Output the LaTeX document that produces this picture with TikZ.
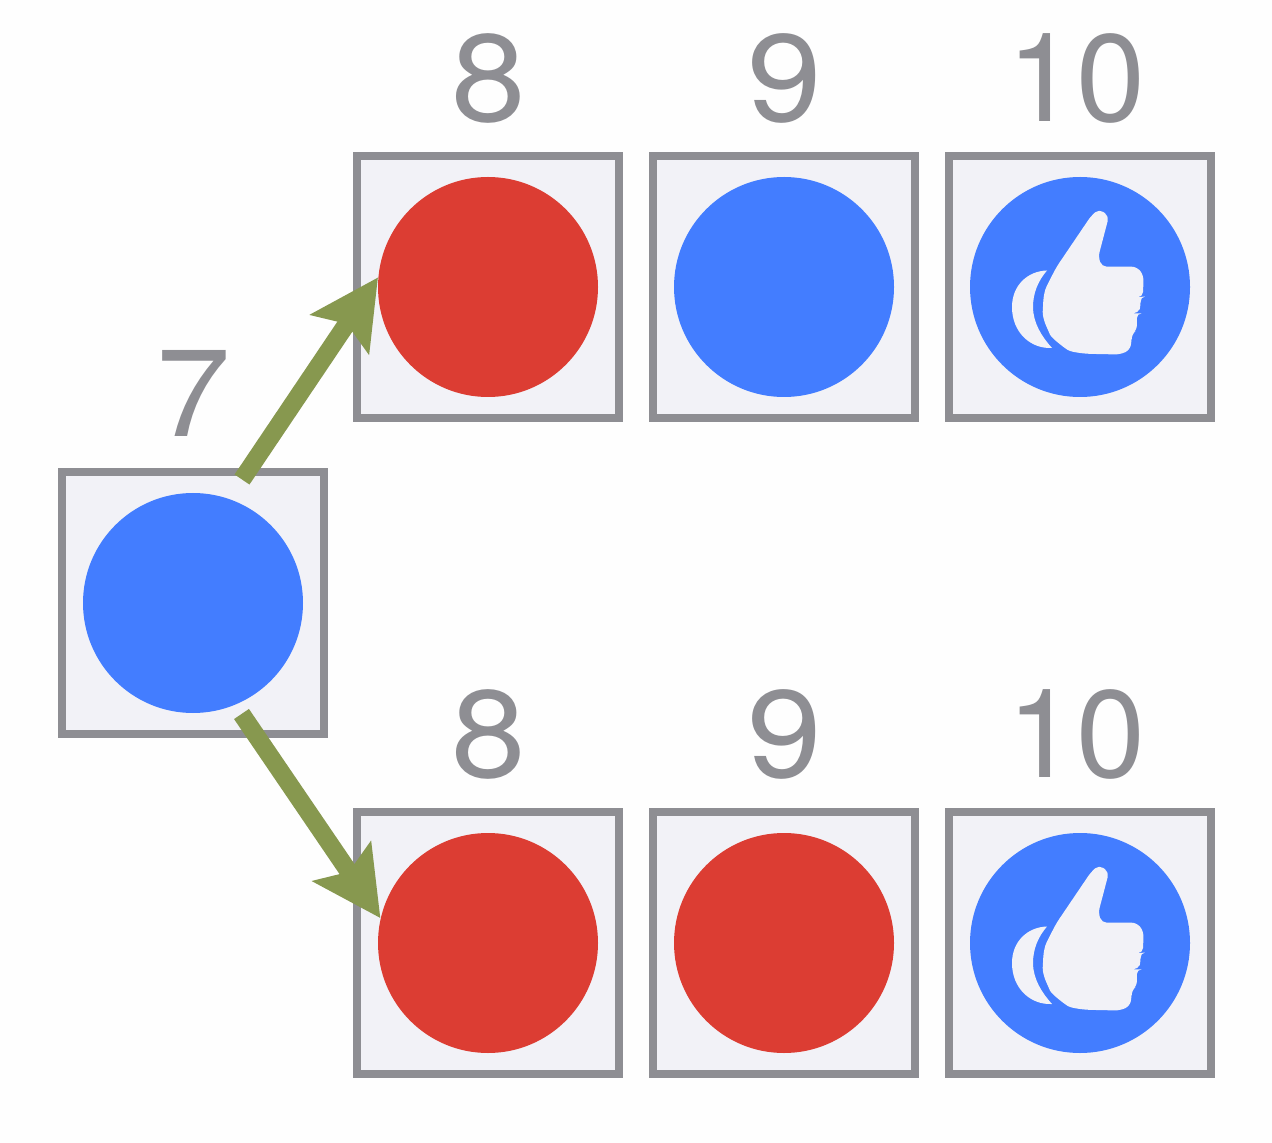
\documentclass[tikz,border=0pt]{standalone}
\usepackage{fontspec}
\setmainfont{TeX Gyre Heros}
\usetikzlibrary{arrows.meta}
\definecolor{boxfill}{HTML}{F2F2F7}
\definecolor{boxline}{HTML}{8E8E93}
\definecolor{dotblue}{HTML}{437DFF}
\definecolor{dotred}{HTML}{DC3D33}
\definecolor{arrowgreen}{HTML}{87984F}
\newcommand{\widedigit}[1]{\scalebox{1.08}[1]{#1}}
\tikzset{
  cell/.style={draw=boxline,fill=boxfill,line width=4pt,minimum size=131pt,inner sep=0pt,shape=rectangle},
  dotb/.style={fill=dotblue,circle,minimum size=110pt,inner sep=0pt},
  dotr/.style={fill=dotred,circle,minimum size=110pt,inner sep=0pt},
  num/.style={text=boxline,font=\fontsize{62}{62}\selectfont,inner sep=0pt},
  link/.style={draw=arrowgreen,line width=9pt,-{Stealth[length=34pt,width=34.5pt,inset=6pt]}},
  thumbup/.pic={
    \fill[boxfill,rounded corners=2.5pt]
      (11,-71) -- (19,-78) -- (29,-71) -- (18.3,-30.3) -- (21.7,-20.3) -- (56.7,-20.3)
      -- (63.5,-12) -- (63,9.7) -- (60,10) -- (61,18) -- (58.3,26.3) -- (56.7,26.3) -- (57,43)
      -- (51.7,47) -- (51.7,53) -- (50,63) -- (40,67.5) -- (6.7,66.8)
      .. controls (-4,65.5) and (-10,64.5) .. (-16.7,60)
      .. controls (-24,54) and (-29,50) .. (-32,43)
      .. controls (-36,34) and (-37.5,28) .. (-37,19.7)
      .. controls (-36.5,9) and (-35,3) .. (-32,-3.7)
      -- (-23.3,-20.3) -- cycle;
    \fill[boxfill]
      (-33,-16.5) .. controls (-52,-16) and (-68,-2) .. (-68,20)
      .. controls (-68,45) and (-50,62) .. (-28,61)
      .. controls (-38,50) and (-47,36) .. (-47,20)
      .. controls (-47,6) and (-42,-6) .. (-33,-16.5) -- cycle;
  }
}
\begin{document}
\begin{tikzpicture}[x=0.5pt,y=-0.5pt]
\useasboundingbox[fill=white!99.5!black] (0,0) rectangle (1272,1143);
\node[cell] (b7) at (193,603) {};
\node[cell] (b81) at (488,287) {};
\node[cell] (b91) at (784,287) {};
\node[cell] (b101) at (1080,287) {};
\node[cell] (b82) at (488,943) {};
\node[cell] (b92) at (784,943) {};
\node[cell] (b102) at (1080,943) {};
\node[dotb] (d7) at (193,603) {};
\node[dotr] (d81) at (488,287) {};
\node[dotb] (d91) at (784,287) {};
\node[dotb] (d101) at (1080,287) {};
\node[dotr] (d82) at (488,943) {};
\node[dotr] (d92) at (784,943) {};
\node[dotb] (d102) at (1080,943) {};
\pic at (d101.center) {thumbup};
\pic at (d102.center) {thumbup};
\node[num] (n7) at (194,393) {\widedigit{7}};
\node[num] (n81) at (489,78) {\widedigit{8}};
\node[num] (n91) at (785,78) {\widedigit{9}};
\node[num] (n101) at (1076,78) {10};
\node[num] (n82) at (489,734) {\widedigit{8}};
\node[num] (n92) at (785,734) {\widedigit{9}};
\node[num] (n102) at (1076,734) {10};
\coordinate (t1) at (242,479.5);
\coordinate (t2) at (241.5,714);
\draw[link] (t1) -- (d81.175);
\draw[link] (t2) -- (d82.167);
\end{tikzpicture}
\end{document}
